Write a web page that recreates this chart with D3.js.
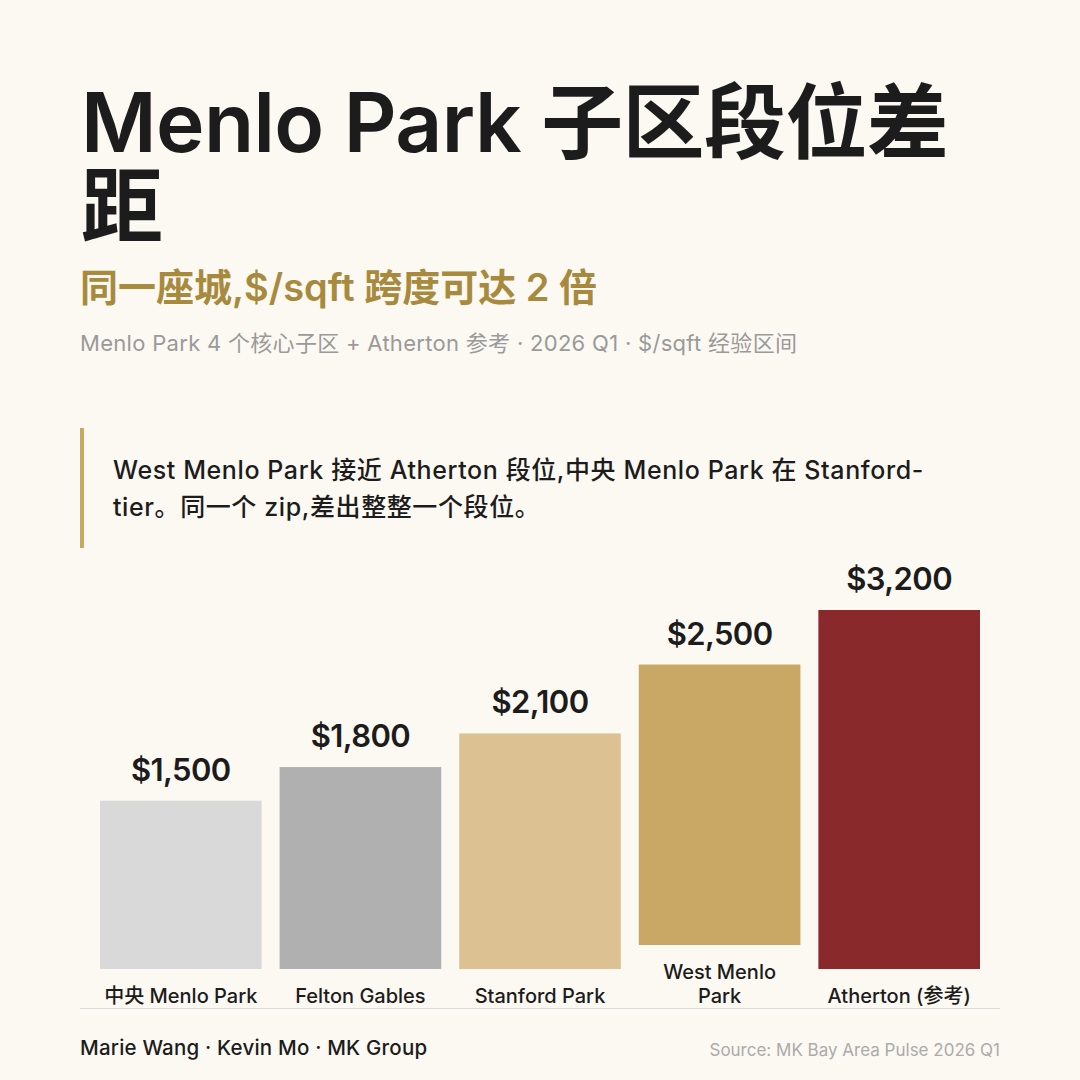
<!DOCTYPE html>
<html>
<head>
<meta charset="utf-8">
<script src="https://cdn.jsdelivr.net/npm/d3@7.9.0/dist/d3.min.js"></script>
<style>
  html, body { margin: 0; padding: 0; background: #fcf9f2; }
  svg { display: block; }
  text { font-family: "Inter", "Noto Sans CJK SC", sans-serif; }
</style>
</head>
<body>
<svg id="chart" width="1080" height="1080"></svg>
<script>
// chart data
const categories = ["中央 Menlo Park", "Felton Gables", "Stanford Park", "West Menlo\nPark", "Atherton (参考)"];
const values = [1500, 1800, 2100, 2500, 3200];
const barColors = ["#d9d9d9", "#b0b0b0", "#dcc292", "#c9a865", "#8a292c"];

const titleLines = ["Menlo Park 子区段位差", "距"];
const subtitle = "同一座城,$/sqft 跨度可达 2 倍";
const meta = "Menlo Park 4 个核心子区 + Atherton 参考 · 2026 Q1 · $/sqft 经验区间";
const calloutLines = ["West Menlo Park 接近 Atherton 段位,中央 Menlo Park 在 Stanford-", "tier。同一个 zip,差出整整一个段位。"];
const credits = "Marie Wang · Kevin Mo · MK Group";
const source = "Source: MK Bay Area Pulse 2026 Q1";

const svg = d3.select("#chart");
const fmt = d3.format("$,");

// header
const title = svg.append("text")
    .attr("font-size", 82)
    .attr("font-weight", 600)
    .attr("letter-spacing", -0.6)
    .attr("fill", "#1c1c1c");
title.selectAll("tspan")
  .data(titleLines)
  .join("tspan")
    .attr("x", 81)
    .attr("y", (d, i) => 152 + i * 84)
    .text(d => d);

svg.append("text")
    .attr("x", 80).attr("y", 301)
    .attr("font-size", 38)
    .attr("font-weight", 600)
    .attr("fill", "#a78a3e")
    .text(subtitle);

svg.append("text")
    .attr("x", 80).attr("y", 351)
    .attr("font-size", 22)
    .attr("letter-spacing", 0.3)
    .attr("fill", "#9a9a9a")
    .text(meta);

// callout box
svg.append("rect")
    .attr("x", 80).attr("y", 428)
    .attr("width", 4).attr("height", 120)
    .attr("fill", "#c9a865");

const callout = svg.append("text")
    .attr("font-size", 25)
    .attr("font-weight", 500)
    .attr("letter-spacing", 0.6)
    .attr("fill", "#1c1c1c");
callout.selectAll("tspan")
  .data(calloutLines)
  .join("tspan")
    .attr("x", 113)
    .attr("y", (d, i) => 479 + i * 37)
    .text(d => d);

// bars
const x = d3.scaleBand()
    .domain(categories)
    .range([100, 980])
    .paddingInner(0.1)
    .paddingOuter(0);

const h = d3.scaleLinear()
    .domain([0, 3200])
    .range([0, 359]);

const labelBase = 1003;   // baseline of the last label line
const lineH = 24;
const barBase = 969;      // bottom of bars with one-line labels

const data = categories.map((c, i) => ({
  cat: c,
  lines: c.split("\n"),
  value: values[i],
  color: barColors[i]
}));
data.forEach(d => { d.bottom = barBase - (d.lines.length - 1) * lineH; });

const g = svg.append("g");

g.selectAll("rect.bar")
  .data(data)
  .join("rect")
    .attr("class", "bar")
    .attr("x", d => x(d.cat))
    .attr("width", x.bandwidth())
    .attr("y", d => d.bottom - h(d.value))
    .attr("height", d => h(d.value))
    .attr("fill", d => d.color);

g.selectAll("text.val")
  .data(data)
  .join("text")
    .attr("class", "val")
    .attr("x", d => x(d.cat) + x.bandwidth() / 2)
    .attr("y", d => d.bottom - h(d.value) - 20)
    .attr("text-anchor", "middle")
    .attr("font-size", 31)
    .attr("font-weight", 600)
    .attr("letter-spacing", -0.6)
    .attr("fill", "#1c1c1c")
    .text(d => fmt(d.value));

const cats = g.selectAll("text.cat")
  .data(data)
  .join("text")
    .attr("class", "cat")
    .attr("text-anchor", "middle")
    .attr("font-size", 20)
    .attr("font-weight", 500)
    .attr("fill", "#1c1c1c");
cats.selectAll("tspan")
  .data(d => d.lines.map((l, i) => ({ l, i, n: d.lines.length, cx: x(d.cat) + x.bandwidth() / 2 })))
  .join("tspan")
    .attr("x", d => d.cx)
    .attr("y", d => labelBase - (d.n - 1 - d.i) * lineH)
    .text(d => d.l);

// baseline rule
svg.append("line")
    .attr("x1", 80).attr("x2", 1000)
    .attr("y1", 1008.5).attr("y2", 1008.5)
    .attr("stroke", "#dcdcdc")
    .attr("stroke-width", 1);

// footer
svg.append("text")
    .attr("x", 80).attr("y", 1055)
    .attr("font-size", 20.5)
    .attr("font-weight", 500)
    .attr("letter-spacing", 0.2)
    .attr("fill", "#1c1c1c")
    .text(credits);

svg.append("text")
    .attr("x", 1000).attr("y", 1056)
    .attr("text-anchor", "end")
    .attr("font-size", 17)
    .attr("fill", "#ababab")
    .text(source);
</script>
</body>
</html>
